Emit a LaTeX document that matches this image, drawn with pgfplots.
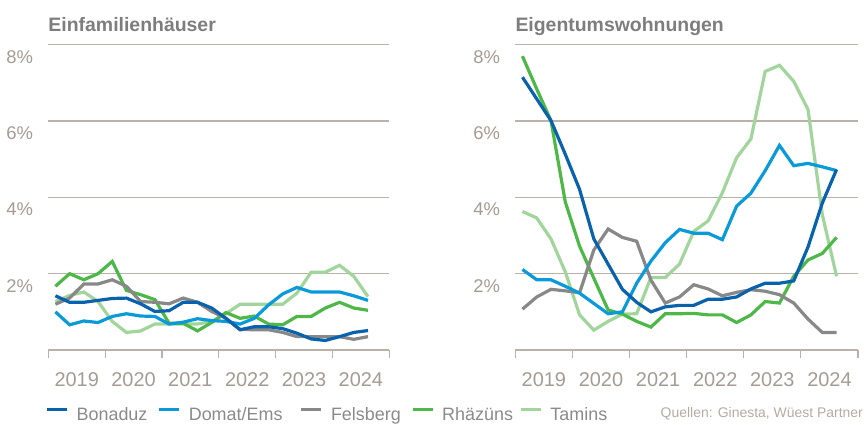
\documentclass[border=0pt]{standalone}
\usepackage{fontspec}
\setmainfont{Liberation Sans}
\usepackage{pgfplots}
\pgfplotsset{compat=1.18}
\definecolor{bon}{RGB}{10,98,172}
\definecolor{dom}{RGB}{10,154,218}
\definecolor{fel}{RGB}{136,136,136}
\definecolor{rha}{RGB}{77,184,72}
\definecolor{tam}{RGB}{162,213,156}
\definecolor{gridc}{RGB}{186,177,169}
\definecolor{tickc}{RGB}{165,155,147}
\definecolor{titlec}{RGB}{125,125,125}
\definecolor{legc}{RGB}{138,138,138}
\definecolor{srcc}{RGB}{180,171,163}
\pgfplotsset{
  panel/.style={
    scale only axis, height=305.3bp,
    ymin=0, ymax=8, xmin=2019, xmax=2025,
    axis line style={draw=none},
    ytick={0,2,4,6,8}, yticklabels={,2\%,4\%,6\%,8\%},
    ymajorgrids, grid style={gridc, line width=1.2bp},
    ytick style={draw=none},
    xtick={2019,2020,2021,2022,2023,2024,2025},
    x tick label as interval,
    xticklabel={\pgfmathprintnumber[1000 sep={},assume math mode=true]{\tick}},
    xtick pos=left, tick align=outside, major tick length=8bp,
    xtick style={gridc, line width=1.2bp},
    tick label style={font=\fontsize{20}{20}\selectfont, text=tickc},
    xticklabel style={anchor=base, inner sep=0pt, yshift=-28bp},
    yticklabel style={anchor=east, inner sep=0pt, xshift=-7bp, yshift=-12bp, font=\fontsize{18.5}{18.5}\selectfont},
    /pgf/number format/assume math mode=true,
    title style={at={(0,1)}, anchor=base west, inner sep=0pt, yshift=7.7bp,
      font=\bfseries\fontsize{19.5}{19.5}\selectfont, text=titlec},
    every axis plot/.append style={line width=3.2bp, mark=none},
    clip=false,
  },
}
\begin{document}
\begin{tikzpicture}
\path[use as bounding box] (0,0) rectangle (866bp,425bp);
\begin{axis}[panel, width=341bp, at={(48.3bp,75bp)}, anchor=south west,
  title={Einfamilienhäuser},
  legend columns=-1,
  legend image code/.code={\draw[#1, line width=3.2bp] (0bp,5bp) -- (20bp,5bp);},
  legend style={at={(-0.009,-0.212)}, anchor=west, draw=none, fill=none,
    inner sep=0pt, nodes={inner sep=0pt, align=left},
    font=\fontsize{18}{18}\selectfont, text=legc,
    /tikz/every odd column/.append style={column sep=8bp},
    /tikz/every even column/.append style={column sep=0bp}},
]
\addlegendimage{color=bon}\addlegendentry[text width=81bp]{Bonaduz}
\addlegendimage{color=dom}\addlegendentry[text width=111bp]{Domat/Ems}
\addlegendimage{color=fel}\addlegendentry[text width=80bp]{Felsberg}
\addlegendimage{color=rha}\addlegendentry[text width=77bp]{Rhäzüns}
\addlegendimage{color=tam}\addlegendentry[text width=60bp]{Tamins}
% Tamins
\addplot[color=tam, forget plot] coordinates {(2019.125,1.27) (2019.375,1.43) (2019.625,1.52) (2019.875,1.27) (2020.125,0.75) (2020.375,0.46) (2020.625,0.50) (2020.875,0.68) (2021.125,0.68) (2021.375,0.68) (2021.625,0.68) (2021.875,0.75) (2022.125,0.95) (2022.375,1.20) (2022.625,1.20) (2022.875,1.20) (2023.125,1.20) (2023.375,1.49) (2023.625,2.04) (2023.875,2.04) (2024.125,2.22) (2024.375,1.93) (2024.625,1.40)};
% Rhaezuens
\addplot[color=rha, forget plot] coordinates {(2019.125,1.67) (2019.375,2.00) (2019.625,1.84) (2019.875,2.00) (2020.125,2.32) (2020.375,1.56) (2020.625,1.45) (2020.875,1.32) (2021.125,0.70) (2021.375,0.70) (2021.625,0.50) (2021.875,0.72) (2022.125,0.98) (2022.375,0.83) (2022.625,0.89) (2022.875,0.68) (2023.125,0.66) (2023.375,0.88) (2023.625,0.88) (2023.875,1.10) (2024.125,1.25) (2024.375,1.10) (2024.625,1.04)};
% Felsberg
\addplot[color=fel, forget plot] coordinates {(2019.125,1.20) (2019.375,1.36) (2019.625,1.73) (2019.875,1.73) (2020.125,1.84) (2020.375,1.67) (2020.625,1.27) (2020.875,1.25) (2021.125,1.21) (2021.375,1.36) (2021.625,1.25) (2021.875,1.01) (2022.125,0.83) (2022.375,0.54) (2022.625,0.53) (2022.875,0.53) (2023.125,0.46) (2023.375,0.35) (2023.625,0.35) (2023.875,0.35) (2024.125,0.35) (2024.375,0.28) (2024.625,0.35)};
% Domat/Ems
\addplot[color=dom, forget plot] coordinates {(2019.125,1.00) (2019.375,0.66) (2019.625,0.76) (2019.875,0.72) (2020.125,0.88) (2020.375,0.95) (2020.625,0.89) (2020.875,0.88) (2021.125,0.68) (2021.375,0.73) (2021.625,0.82) (2021.875,0.77) (2022.125,0.75) (2022.375,0.68) (2022.625,0.83) (2022.875,1.18) (2023.125,1.47) (2023.375,1.64) (2023.625,1.52) (2023.875,1.52) (2024.125,1.52) (2024.375,1.42) (2024.625,1.30)};
% Bonaduz
\addplot[color=bon, forget plot] coordinates {(2019.125,1.42) (2019.375,1.25) (2019.625,1.25) (2019.875,1.30) (2020.125,1.35) (2020.375,1.36) (2020.625,1.21) (2020.875,1.01) (2021.125,1.03) (2021.375,1.25) (2021.625,1.25) (2021.875,1.10) (2022.125,0.83) (2022.375,0.53) (2022.625,0.61) (2022.875,0.61) (2023.125,0.56) (2023.375,0.44) (2023.625,0.29) (2023.875,0.25) (2024.125,0.35) (2024.375,0.46) (2024.625,0.51)};
\end{axis}
\begin{axis}[panel, width=342.7bp, at={(515.3bp,75bp)}, anchor=south west,
  title={Eigentumswohnungen}]
\addplot[color=tam] coordinates {(2019.125,3.63) (2019.375,3.46) (2019.625,2.91) (2019.875,2.05) (2020.125,0.92) (2020.375,0.52) (2020.625,0.75) (2020.875,0.94) (2021.125,0.95) (2021.375,1.90) (2021.625,1.90) (2021.875,2.25) (2022.125,3.11) (2022.375,3.38) (2022.625,4.12) (2022.875,5.04) (2023.125,5.53) (2023.375,7.30) (2023.625,7.46) (2023.875,7.04) (2024.125,6.30) (2024.375,3.55) (2024.625,1.93)};
\addplot[color=rha] coordinates {(2019.125,7.70) (2019.375,6.84) (2019.625,6.01) (2019.875,3.88) (2020.125,2.72) (2020.375,1.88) (2020.625,1.05) (2020.875,0.94) (2021.125,0.75) (2021.375,0.60) (2021.625,0.95) (2021.875,0.95) (2022.125,0.96) (2022.375,0.92) (2022.625,0.92) (2022.875,0.72) (2023.125,0.92) (2023.375,1.27) (2023.625,1.23) (2023.875,1.93) (2024.125,2.36) (2024.375,2.53) (2024.625,2.95)};
\addplot[color=fel] coordinates {(2019.125,1.07) (2019.375,1.39) (2019.625,1.59) (2019.875,1.55) (2020.125,1.50) (2020.375,2.62) (2020.625,3.17) (2020.875,2.95) (2021.125,2.85) (2021.375,1.83) (2021.625,1.23) (2021.875,1.39) (2022.125,1.71) (2022.375,1.60) (2022.625,1.42) (2022.875,1.51) (2023.125,1.58) (2023.375,1.54) (2023.625,1.45) (2023.875,1.23) (2024.125,0.81) (2024.375,0.46) (2024.625,0.46)};
\addplot[color=dom] coordinates {(2019.125,2.11) (2019.375,1.84) (2019.625,1.84) (2019.875,1.67) (2020.125,1.49) (2020.375,1.22) (2020.625,0.95) (2020.875,1.00) (2021.125,1.75) (2021.375,2.33) (2021.625,2.81) (2021.875,3.16) (2022.125,3.06) (2022.375,3.06) (2022.625,2.89) (2022.875,3.77) (2023.125,4.11) (2023.375,4.70) (2023.625,5.36) (2023.875,4.83) (2024.125,4.89) (2024.375,4.80) (2024.625,4.70)};
\addplot[color=bon] coordinates {(2019.125,7.15) (2019.375,6.58) (2019.625,6.01) (2019.875,5.13) (2020.125,4.21) (2020.375,2.91) (2020.625,2.25) (2020.875,1.59) (2021.125,1.25) (2021.375,1.00) (2021.625,1.13) (2021.875,1.17) (2022.125,1.17) (2022.375,1.33) (2022.625,1.33) (2022.875,1.39) (2023.125,1.60) (2023.375,1.75) (2023.625,1.75) (2023.875,1.81) (2024.125,2.70) (2024.375,3.85) (2024.625,4.73)};
\node[anchor=base east, inner sep=0pt, font=\fontsize{14}{14}\selectfont, text=srcc] at (rel axis cs:1.0146,-0.2227) {Quellen: Ginesta, Wüest Partner};
\end{axis}
\end{tikzpicture}
\end{document}
